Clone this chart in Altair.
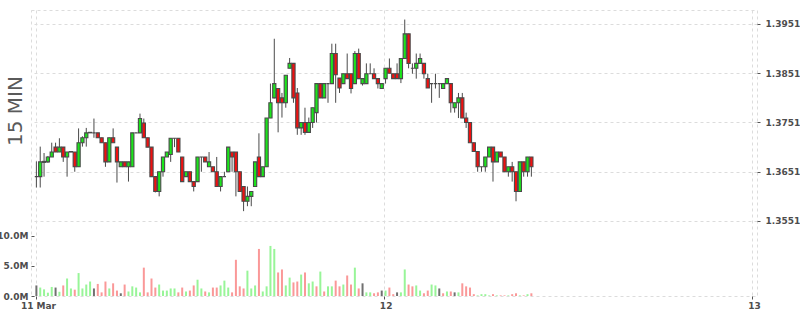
import altair as alt
import pandas as pd

# ---- data (15-minute candles, 11 Mar 01:15 onward) ----
opens = [1.3641, 1.3641, 1.3670, 1.3671, 1.3681, 1.3701, 1.3691, 1.3701, 1.3681, 1.3691,
         1.3691, 1.3661, 1.3710, 1.3720, 1.3730, 1.3730, 1.3730, 1.3720, 1.3710, 1.3671,
         1.3720, 1.3701, 1.3661, 1.3671, 1.3661, 1.3661, 1.3730, 1.3730, 1.3750, 1.3720,
         1.3701, 1.3641, 1.3611, 1.3651, 1.3681, 1.3686, 1.3719, 1.3719, 1.3681, 1.3641,
         1.3651, 1.3631, 1.3631, 1.3681, 1.3681, 1.3661, 1.3661, 1.3651, 1.3621, 1.3641,
         1.3651, 1.3691, 1.3691, 1.3651, 1.3621, 1.3591, 1.3601, 1.3621, 1.3681, 1.3641,
         1.3661, 1.3760, 1.3801, 1.3820, 1.3801, 1.3791, 1.3861, 1.3871, 1.3811, 1.3740,
         1.3751, 1.3731, 1.3751, 1.3771, 1.3830, 1.3801, 1.3830, 1.3830, 1.3891, 1.3841,
         1.3830, 1.3850, 1.3850, 1.3830, 1.3891, 1.3830, 1.3830, 1.3850, 1.3850, 1.3840,
         1.3820, 1.3840, 1.3861, 1.3850, 1.3850, 1.3840, 1.3881, 1.3931, 1.3861, 1.3861,
         1.3871, 1.3871, 1.3840, 1.3830, 1.3830, 1.3830, 1.3820, 1.3830, 1.3830, 1.3781,
         1.3791, 1.3801, 1.3760, 1.3751, 1.3710, 1.3692, 1.3661, 1.3661, 1.3681, 1.3701,
         1.3671, 1.3691, 1.3681, 1.3651, 1.3661, 1.3651, 1.3611, 1.3671, 1.3651, 1.3681]
closes = [1.3641, 1.3671, 1.3672, 1.3681, 1.3691, 1.3691, 1.3701, 1.3681, 1.3691, 1.3692,
          1.3661, 1.3710, 1.3720, 1.3730, 1.3731, 1.3730, 1.3720, 1.3710, 1.3671, 1.3720,
          1.3710, 1.3671, 1.3671, 1.3661, 1.3671, 1.3730, 1.3730, 1.3759, 1.3720, 1.3701,
          1.3641, 1.3611, 1.3651, 1.3681, 1.3691, 1.3719, 1.3719, 1.3691, 1.3631, 1.3651,
          1.3631, 1.3621, 1.3681, 1.3681, 1.3671, 1.3671, 1.3651, 1.3621, 1.3641, 1.3641,
          1.3701, 1.3681, 1.3651, 1.3611, 1.3591, 1.3601, 1.3611, 1.3671, 1.3641, 1.3661,
          1.3760, 1.3791, 1.3830, 1.3791, 1.3791, 1.3847, 1.3871, 1.3801, 1.3740, 1.3751,
          1.3731, 1.3751, 1.3781, 1.3830, 1.3801, 1.3830, 1.3830, 1.3891, 1.3848, 1.3821,
          1.3850, 1.3840, 1.3820, 1.3891, 1.3840, 1.3840, 1.3850, 1.3850, 1.3840, 1.3830,
          1.3830, 1.3861, 1.3851, 1.3840, 1.3840, 1.3881, 1.3931, 1.3871, 1.3861, 1.3871,
          1.3881, 1.3850, 1.3821, 1.3830, 1.3830, 1.3830, 1.3830, 1.3840, 1.3791, 1.3791,
          1.3801, 1.3760, 1.3751, 1.3710, 1.3692, 1.3661, 1.3661, 1.3681, 1.3701, 1.3671,
          1.3691, 1.3681, 1.3651, 1.3661, 1.3651, 1.3611, 1.3671, 1.3651, 1.3681, 1.3661]
highs = [1.3672, 1.3702, 1.3689, 1.3683, 1.3710, 1.3710, 1.3719, 1.3701, 1.3691, 1.3692,
         1.3691, 1.3739, 1.3723, 1.3740, 1.3731, 1.3759, 1.3730, 1.3720, 1.3710, 1.3720,
         1.3739, 1.3701, 1.3671, 1.3671, 1.3671, 1.3730, 1.3730, 1.3769, 1.3759, 1.3720,
         1.3701, 1.3641, 1.3651, 1.3681, 1.3691, 1.3719, 1.3719, 1.3719, 1.3681, 1.3651,
         1.3651, 1.3631, 1.3681, 1.3681, 1.3681, 1.3691, 1.3661, 1.3681, 1.3641, 1.3651,
         1.3701, 1.3691, 1.3691, 1.3651, 1.3621, 1.3621, 1.3611, 1.3671, 1.3729, 1.3661,
         1.3760, 1.3830, 1.3921, 1.3820, 1.3811, 1.3847, 1.3882, 1.3871, 1.3821, 1.3751,
         1.3781, 1.3761, 1.3781, 1.3830, 1.3830, 1.3830, 1.3830, 1.3911, 1.3911, 1.3841,
         1.3850, 1.3891, 1.3850, 1.3896, 1.3901, 1.3840, 1.3871, 1.3871, 1.3861, 1.3840,
         1.3830, 1.3861, 1.3881, 1.3850, 1.3871, 1.3881, 1.3960, 1.3931, 1.3871, 1.3891,
         1.3891, 1.3871, 1.3850, 1.3830, 1.3850, 1.3830, 1.3830, 1.3840, 1.3830, 1.3791,
         1.3811, 1.3811, 1.3771, 1.3751, 1.3710, 1.3692, 1.3661, 1.3681, 1.3701, 1.3701,
         1.3691, 1.3691, 1.3681, 1.3661, 1.3671, 1.3651, 1.3671, 1.3671, 1.3681, 1.3681]
lows = [1.3619, 1.3619, 1.3641, 1.3669, 1.3681, 1.3691, 1.3691, 1.3671, 1.3641, 1.3691,
        1.3651, 1.3661, 1.3702, 1.3702, 1.3730, 1.3720, 1.3720, 1.3710, 1.3661, 1.3671,
        1.3710, 1.3629, 1.3661, 1.3661, 1.3631, 1.3661, 1.3730, 1.3730, 1.3720, 1.3701,
        1.3641, 1.3609, 1.3601, 1.3641, 1.3681, 1.3671, 1.3701, 1.3691, 1.3631, 1.3641,
        1.3631, 1.3611, 1.3631, 1.3651, 1.3671, 1.3661, 1.3651, 1.3621, 1.3611, 1.3641,
        1.3651, 1.3651, 1.3601, 1.3611, 1.3571, 1.3581, 1.3581, 1.3621, 1.3641, 1.3641,
        1.3661, 1.3760, 1.3800, 1.3731, 1.3761, 1.3781, 1.3861, 1.3791, 1.3726, 1.3726,
        1.3726, 1.3731, 1.3740, 1.3751, 1.3801, 1.3801, 1.3791, 1.3830, 1.3791, 1.3811,
        1.3830, 1.3840, 1.3810, 1.3830, 1.3840, 1.3826, 1.3830, 1.3850, 1.3840, 1.3820,
        1.3820, 1.3830, 1.3851, 1.3840, 1.3840, 1.3831, 1.3881, 1.3861, 1.3850, 1.3840,
        1.3871, 1.3840, 1.3821, 1.3791, 1.3820, 1.3801, 1.3820, 1.3830, 1.3771, 1.3771,
        1.3760, 1.3760, 1.3740, 1.3710, 1.3692, 1.3651, 1.3651, 1.3651, 1.3681, 1.3631,
        1.3671, 1.3681, 1.3651, 1.3641, 1.3631, 1.3591, 1.3611, 1.3641, 1.3641, 1.3641]
volumes_m = [1.75, 1.4, 1.1, 0.55, 1.5, 1.4, 0.7, 1.75, 2.9, 1.25,
             1.05, 3.8, 1.25, 1.9, 2.4, 1.25, 2.0, 0.6, 2.4, 1.25,
             2.1, 0.9, 0.45, 1.9, 0.75, 1.6, 1.4, 0.6, 4.7, 0.6,
             2.9, 1.4, 1.9, 0.9, 0.9, 1.25, 1.25, 0.6, 1.4, 0.75,
             0.9, 1.75, 2.7, 1.25, 0.75, 0.6, 1.4, 1.4, 1.75, 2.55,
             1.4, 0.6, 6.0, 1.6, 1.25, 4.2, 1.25, 1.75, 7.8, 0.75,
             1.6, 8.3, 7.8, 3.9, 4.4, 1.75, 3.05, 2.25, 2.4, 3.55,
             3.9, 2.1, 2.4, 1.6, 4.05, 0.75, 1.6, 1.6, 2.55, 1.6,
             1.9, 3.4, 1.9, 4.7, 1.25, 2.1, 0.6, 0.6, 0.45, 0.6,
             0.9, 0.9, 1.4, 0.3, 0.6, 0.6, 4.4, 1.9, 1.6, 1.75,
             0.9, 0.45, 0.9, 1.9, 1.75, 1.25, 0.45, 0.75, 0.75, 0.6,
             0.6, 2.1, 1.6, 1.4, 0.3, 0.1, 0.3, 0.3, 0.1, 0.3,
             0.1, 0.1, 0.1, 0.1, 0.3, 0.45, 0.1, 0.1, 0.3, 0.45]
# volume bar colour class: u = up, d = down, f = unchanged
vol_dirs = list("fuuuufuduu" "duuuufdddu" "ddfduuuudd" "dduuuuuddu" "dduududduu"
                "udddduuudu" "uuudduuddu" "duududuudd" "uddudfuudd" "fuddfuuddu"
                "udduufdudf" "udddduuuud" "udduddudud")
first_candle = "2014-03-11 01:15"
day_start = "2014-03-11"
x_ticks = [1.35, 24, 48]
price_ticks = [1.3551, 1.3651, 1.3751, 1.3851, 1.3951]
vol_ticks = [0, 5e6, 10e6]
side_title = "15 MIN"

times = pd.date_range(first_candle, periods=len(opens), freq="15min")
hours = (times - pd.Timestamp(day_start)) / pd.Timedelta(hours=1) + 0.125
df = pd.DataFrame({
    "t": hours,
    "open": opens, "close": closes, "high": highs, "low": lows,
    "vol": [v * 1e6 for v in volumes_m],
    "vdir": vol_dirs,
})

FONT = "DejaVu Sans"
LBL = dict(labelFont=FONT, labelFontSize=9, labelFontWeight="bold", labelColor="#4d4d4d")
GRID = dict(gridColor="#dcdcdc", gridDash=[3, 3], gridWidth=1)
OUTLINE = "#4a4a4a"

x_enc = alt.X(
    "t:Q",
    scale=alt.Scale(domain=[1.35, 48], nice=False, zero=False),
    axis=alt.Axis(values=x_ticks, title=None, grid=True, domain=False,
                  labelExpr="datum.value < 2 ? '11 Mar' : (datum.value < 30 ? '12' : '13')",
                  tickSize=3, tickColor="#555555", labelFlush=False, labelOffset=2,
                  labelPadding=2, labelOverlap=False, **LBL, **GRID),
)

p_scale = alt.Scale(domain=[1.33987, 1.39794], nice=False, zero=False)
p_axis = alt.Axis(orient="right", values=price_ticks, format=".4f", title=None,
                  grid=True, domain=False, tickSize=3, tickColor="#555555",
                  labelPadding=5, **LBL, **GRID)

vol = alt.Chart(df).mark_bar(size=2).encode(
    x=x_enc,
    y=alt.Y("vol:Q", scale=alt.Scale(domain=[0, 47.4e6], nice=False, zero=True),
            axis=alt.Axis(orient="left", values=vol_ticks, title=None, grid=False,
                          domain=False, offset=-3, tickSize=3, tickColor="#555555",
                          labelPadding=3,
                          labelExpr="format(datum.value / 1000000, '.1f') + 'M'", **LBL)),
    color=alt.Color("vdir:N", scale=alt.Scale(domain=["u", "d", "f"],
                                              range=["#98f598", "#fa9898", "#707070"]),
                    legend=None),
)

wick = alt.Chart(df).mark_rule(color=OUTLINE, strokeWidth=1).encode(
    x=x_enc,
    y=alt.Y("low:Q", scale=p_scale, axis=p_axis),
    y2="high:Q",
)

body = alt.Chart(df).transform_calculate(
    dir="datum.close >= datum.open ? 'up' : 'down'"
).mark_bar(size=3.2, stroke=OUTLINE, strokeWidth=1.1).encode(
    x=x_enc,
    y=alt.Y("open:Q", scale=p_scale, axis=p_axis),
    y2="close:Q",
    color=alt.Color("dir:N", scale=alt.Scale(domain=["up", "down"],
                                             range=["#1be51b", "#f01010"]),
                    legend=None),
)

price = alt.layer(wick, body)

label = alt.Chart(pd.DataFrame({"label": [side_title]})).mark_text(
    angle=270, font=FONT, fontSize=20, color="#5a5a5a", align="center", baseline="middle"
).encode(text="label:N", x=alt.value(-15.5), y=alt.value(101))

chart = alt.layer(vol, price, label).resolve_scale(
    y="independent", color="independent"
).properties(
    width=726, height=286,
    autosize=alt.AutoSizeParams(type="none"),
    padding={"left": 31, "top": 10, "right": 43, "bottom": 19},
    background="white",
).configure_view(stroke="#dcdcdc", strokeDash=[3, 3], strokeWidth=1)

chart.save("out.html", embed_options={"renderer": "svg", "actions": False})
